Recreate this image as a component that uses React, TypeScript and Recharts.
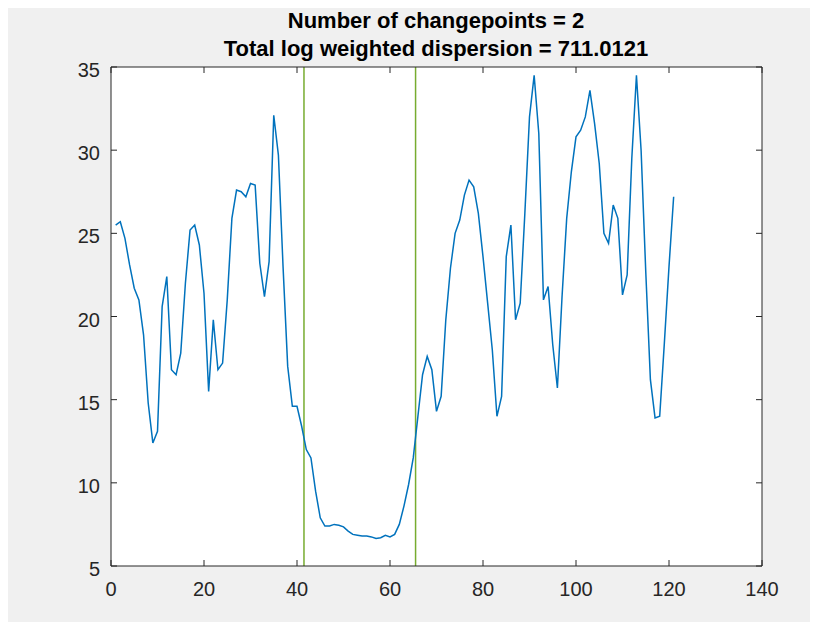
import React from 'react';
import { LineChart, Line, XAxis, YAxis, CartesianGrid, ReferenceLine } from 'recharts';

// signal values, sample 1..121
const values = [
  25.5, 25.7, 24.7, 23.1, 21.7, 21.0, 18.9, 14.8, 12.4, 13.1,
  20.6, 22.4, 16.8, 16.5, 17.8, 22.0, 25.2, 25.5, 24.3, 21.4,
  15.5, 19.8, 16.8, 17.2, 21.0, 25.9, 27.6, 27.5, 27.2, 28.0,
  27.9, 23.2, 21.2, 23.3, 32.1, 29.7, 23.0, 17.0, 14.6, 14.6,
  13.4, 12.0, 11.5, 9.5, 7.9, 7.4, 7.4, 7.5, 7.45, 7.35,
  7.1, 6.9, 6.85, 6.8, 6.8, 6.75, 6.65, 6.7, 6.85, 6.75,
  6.9, 7.5, 8.6, 9.9, 11.5, 14.0, 16.5, 17.6, 16.8, 14.3,
  15.2, 19.8, 22.9, 25.0, 25.8, 27.3, 28.2, 27.8, 26.2, 23.6,
  20.8, 18.0, 14.0, 15.2, 23.6, 25.5, 19.8, 20.8, 26.2, 32.0,
  34.5, 31.0, 21.0, 21.8, 18.3, 15.7, 21.2, 25.9, 28.7, 30.8,
  31.2, 32.0, 33.6, 31.6, 29.2, 25.0, 24.4, 26.7, 25.9, 21.3,
  22.5, 29.5, 34.5, 30.0, 22.7, 16.2, 13.9, 14.0, 18.4, 23.0,
  27.2,
];
const changepoints = [41.5, 65.5];
const xTicks = [0, 20, 40, 60, 80, 100, 120, 140];
const yTicks = [5, 10, 15, 20, 25, 30, 35];
const titleLines = ['Number of changepoints = 2', 'Total log weighted dispersion = 711.0121'];

const data = values.map((v, i) => ({ x: i + 1, y: v }));

const AXIS = '#262626';
const FONT = '"Liberation Sans", Arial, Helvetica, sans-serif';
const TICK_LEN = 6;

const BottomTick = (props: any) => {
  const { x, y, payload } = props;
  return (
    <g>
      <line x1={x} y1={y} x2={x} y2={y - TICK_LEN} stroke={AXIS} />
      <text x={x} y={y + 30} textAnchor="middle" fill={AXIS} fontSize={20} fontFamily={FONT}>
        {payload.value}
      </text>
    </g>
  );
};

const TopTick = (props: any) => {
  const { x, y } = props;
  return <line x1={x} y1={y} x2={x} y2={y + TICK_LEN} stroke={AXIS} />;
};

const LeftTick = (props: any) => {
  const { x, y, payload } = props;
  return (
    <g>
      <line x1={x} y1={y} x2={x + TICK_LEN} y2={y} stroke={AXIS} />
      <text x={x - 11} y={y + 10} textAnchor="end" fill={AXIS} fontSize={20} fontFamily={FONT}>
        {payload.value}
      </text>
    </g>
  );
};

const RightTick = (props: any) => {
  const { x, y } = props;
  return <line x1={x} y1={y} x2={x - TICK_LEN} y2={y} stroke={AXIS} />;
};

export default function App() {
  return (
    <div style={{ position: 'relative', width: 802, height: 614, background: '#f0f0f0' }}>
      <div
        style={{
          position: 'absolute',
          top: -1,
          left: 128,
          width: 600,
          textAlign: 'center',
          fontFamily: FONT,
          fontWeight: 'bold',
          fontSize: 22,
          lineHeight: '28px',
          color: '#000',
        }}
      >
        {titleLines.map((t) => (
          <div key={t}>{t}</div>
        ))}
      </div>
      <LineChart
        width={802}
        height={614}
        data={data}
        margin={{ top: 49, right: 38, bottom: 16, left: 53 }}
        style={{ position: 'absolute', top: 0, left: 0 }}
      >
        <CartesianGrid horizontal={false} vertical={false} fill="#ffffff" />
        <XAxis
          type="number"
          dataKey="x"
          domain={[0, 140]}
          ticks={xTicks}
          height={40}
          tickSize={0}
          tickMargin={0}
          axisLine={{ stroke: AXIS }}
          tickLine={false}
          tick={(p: any) => <BottomTick {...p} />}
          interval={0}
        />
        <XAxis
          xAxisId="t"
          orientation="top"
          type="number"
          dataKey="x"
          domain={[0, 140]}
          ticks={xTicks}
          height={10}
          tickSize={0}
          tickMargin={0}
          axisLine={{ stroke: AXIS }}
          tickLine={false}
          tick={(p: any) => <TopTick {...p} />}
          interval={0}
        />
        <YAxis
          type="number"
          domain={[5, 35]}
          ticks={yTicks}
          width={50}
          tickSize={0}
          tickMargin={0}
          axisLine={{ stroke: AXIS }}
          tickLine={false}
          tick={(p: any) => <LeftTick {...p} />}
          interval={0}
        />
        <YAxis
          yAxisId="r"
          orientation="right"
          type="number"
          domain={[5, 35]}
          ticks={yTicks}
          width={10}
          tickSize={0}
          tickMargin={0}
          axisLine={{ stroke: AXIS }}
          tickLine={false}
          tick={(p: any) => <RightTick {...p} />}
          interval={0}
        />
        <Line
          xAxisId="t"
          yAxisId="r"
          type="linear"
          dataKey="y"
          stroke="none"
          strokeWidth={0}
          dot={false}
          activeDot={false}
          isAnimationActive={false}
        />
        {changepoints.map((c) => (
          <ReferenceLine key={c} x={c} stroke="#77AC30" strokeWidth={1.5} />
        ))}
        <Line
          type="linear"
          dataKey="y"
          stroke="#0072BD"
          strokeWidth={1.5}
          dot={false}
          activeDot={false}
          isAnimationActive={false}
        />
      </LineChart>
    </div>
  );
}
